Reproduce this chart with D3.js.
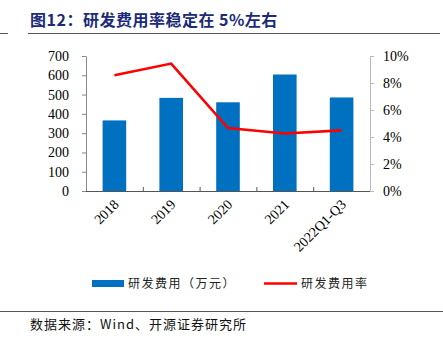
<!DOCTYPE html>
<html><head><meta charset="utf-8">
<script src="https://cdn.jsdelivr.net/npm/d3@7"></script>
<style>
html,body{margin:0;padding:0;background:#fff;}
svg{display:block;}
</style></head>
<body>
<svg id="c" width="443" height="342"></svg>
<script>
const categories = ["2018","2019","2020","2021","2022Q1-Q3"];
const rdExpense = [366, 483, 460, 604, 485];
const rdRate = [8.57, 9.44, 4.66, 4.26, 4.49];
const leftTicks = [0,100,200,300,400,500,600,700];
const rightTicks = [0,2,4,6,8,10];
const titleText = "图12：研发费用率稳定在 5%左右";
const legendBar = "研发费用（万元）";
const legendLine = "研发费用率";
const sourceText = "数据来源：Wind、开源证券研究所";

const svg = d3.select("#c");
const L = 86, R = 370, T = 56, B = 191;
const serif = "'Liberation Serif','Times New Roman',serif";
const cjk = "'Noto Sans CJK SC','Noto Sans CJK JP',sans-serif";

const xb = d3.scaleBand().domain(categories).range([L, R]);
const yL = d3.scaleLinear().domain([0,700]).range([B,T]);
const yR = d3.scaleLinear().domain([0,10]).range([B,T]);

// title
svg.append("text").attr("x",30).attr("y",26).attr("font-family",cjk).attr("font-weight","bold")
  .attr("font-size",16).attr("letter-spacing",0.5).attr("fill","#1c2a78").text(titleText);
svg.append("line").attr("x1",0).attr("x2",8).attr("y1",33.5).attr("y2",33.5).attr("stroke","#555").attr("stroke-width",1);
svg.append("line").attr("x1",28).attr("x2",440).attr("y1",33.5).attr("y2",33.5).attr("stroke","#555").attr("stroke-width",1);

// bars
svg.selectAll("rect.bar").data(categories).enter().append("rect")
  .attr("x", d=>xb(d)+xb.bandwidth()/2-11.8)
  .attr("width", 23.6)
  .attr("y", (d,i)=>yL(rdExpense[i]))
  .attr("height", (d,i)=>B-yL(rdExpense[i]))
  .attr("fill","#0070c0");

// left axis
const gl = svg.append("g").attr("transform",`translate(${L},0)`)
  .call(d3.axisLeft(yL).tickValues(leftTicks).tickSize(4).tickPadding(13).tickSizeOuter(0));
gl.select(".domain").attr("stroke","#888");
gl.selectAll(".tick line").attr("stroke","#888");
gl.selectAll("text").attr("font-family",serif).attr("font-size",14).attr("fill","#000");

// right axis
const gr = svg.append("g").attr("transform",`translate(${R},0)`)
  .call(d3.axisRight(yR).tickValues(rightTicks).tickFormat(d=>d+"%").tickSize(4).tickPadding(9).tickSizeOuter(0));
gr.select(".domain").attr("stroke","#bbb");
gr.selectAll(".tick line").attr("stroke","#bbb");
gr.selectAll("text").attr("font-family",serif).attr("font-size",14).attr("fill","#000");

// bottom axis
svg.append("line").attr("x1",L).attr("x2",R).attr("y1",B+0.5).attr("y2",B+0.5).attr("stroke","#555");
const boundaries = categories.slice(1).map(c=>xb(c));
svg.selectAll("line.xt").data(boundaries).enter().append("line")
  .attr("x1",d=>d+0.5).attr("x2",d=>d+0.5).attr("y1",B-4).attr("y2",B).attr("stroke","#555");
svg.selectAll("text.xl").data(categories).enter().append("text")
  .attr("transform", d=>`translate(${xb(d)+xb.bandwidth()/2+3},${B+12}) rotate(-45)`)
  .attr("text-anchor","end").attr("dominant-baseline","middle")
  .attr("font-family",serif).attr("font-size",14).attr("fill","#000").text(d=>d);

// line
const line = d3.line().x((d,i)=>xb(categories[i])+xb.bandwidth()/2).y(d=>yR(d));
svg.append("path").datum(rdRate).attr("d",line).attr("fill","none").attr("stroke","#ff0000").attr("stroke-width",2.6);

// legend
svg.append("rect").attr("x",92).attr("y",280).attr("width",32).attr("height",7).attr("fill","#0070c0");
svg.append("text").attr("x",128).attr("y",288).attr("font-family",cjk).attr("font-size",12).attr("letter-spacing",1.5).attr("fill","#222").text(legendBar);
svg.append("line").attr("x1",264).attr("x2",297).attr("y1",283.5).attr("y2",283.5).attr("stroke","#ff0000").attr("stroke-width",2.6);
svg.append("text").attr("x",301).attr("y",288).attr("font-family",cjk).attr("font-size",12).attr("letter-spacing",1.5).attr("fill","#222").text(legendLine);

// source
svg.append("line").attr("x1",0).attr("x2",443).attr("y1",311.5).attr("y2",311.5).attr("stroke","#555");
svg.append("text").attr("x",30).attr("y",329).attr("font-family",cjk).attr("font-size",13).attr("letter-spacing",1).attr("fill","#111").text(sourceText);
</script>
</body></html>
